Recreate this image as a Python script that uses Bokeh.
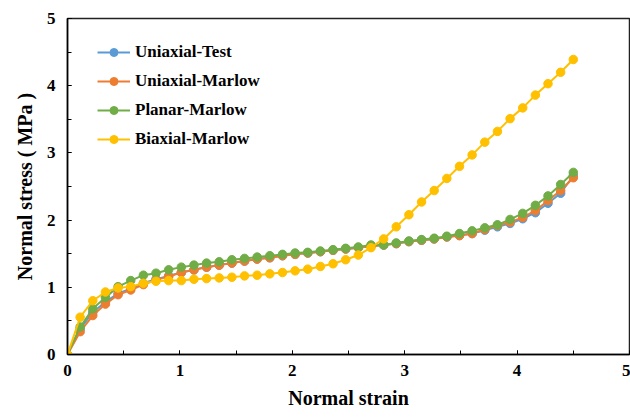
from bokeh.plotting import figure
from bokeh.models import SingleIntervalTicker, Legend, LegendItem, Range1d
from bokeh.embed import file_html
from bokeh.resources import INLINE

# Strain samples shared by all four curves
strain = [round(i * 0.1125, 4) for i in range(41)]

uniaxial_test = [0, 0.38, 0.63, 0.78, 0.91, 0.98, 1.06, 1.12, 1.17, 1.22, 1.26,
                 1.30, 1.33, 1.36, 1.39, 1.42, 1.44, 1.47, 1.49, 1.51, 1.53,
                 1.55, 1.57, 1.59, 1.61, 1.63, 1.65, 1.68, 1.70, 1.72, 1.75,
                 1.77, 1.80, 1.85, 1.90, 1.95, 2.02, 2.11, 2.25, 2.40, 2.66]
uniaxial_marlow = [0, 0.34, 0.58, 0.75, 0.89, 0.96, 1.04, 1.11, 1.16, 1.22, 1.26,
                   1.30, 1.33, 1.36, 1.39, 1.42, 1.44, 1.47, 1.49, 1.51, 1.53,
                   1.55, 1.57, 1.59, 1.61, 1.63, 1.65, 1.68, 1.70, 1.72, 1.75,
                   1.77, 1.80, 1.86, 1.92, 1.97, 2.04, 2.14, 2.29, 2.44, 2.63]
planar_marlow = [0, 0.41, 0.68, 0.85, 1.01, 1.10, 1.18, 1.21, 1.26, 1.30, 1.33,
                 1.36, 1.38, 1.41, 1.43, 1.45, 1.47, 1.49, 1.51, 1.52, 1.54,
                 1.56, 1.58, 1.60, 1.63, 1.63, 1.66, 1.69, 1.71, 1.73, 1.76,
                 1.80, 1.84, 1.885, 1.93, 2.01, 2.10, 2.22, 2.36, 2.53, 2.71]
biaxial_marlow = [0, 0.555, 0.80, 0.93, 0.99, 1.01, 1.06, 1.09, 1.10, 1.10, 1.12,
                  1.13, 1.14, 1.15, 1.17, 1.18, 1.20, 1.22, 1.245, 1.27, 1.31,
                  1.35, 1.41, 1.48, 1.59, 1.72, 1.90, 2.08, 2.27, 2.44, 2.62,
                  2.80, 2.97, 3.16, 3.32, 3.51, 3.67, 3.86, 4.03, 4.20, 4.39]

series_names = ["Uniaxial-Test", "Uniaxial-Marlow", "Planar-Marlow", "Biaxial-Marlow"]
series_values = [uniaxial_test, uniaxial_marlow, planar_marlow, biaxial_marlow]
series_colors = ["#5B9BD5", "#ED7D31", "#70AD47", "#FFC000"]

FONT = "'Liberation Serif', 'Times New Roman', serif"

p = figure(width=630, height=417, output_backend="svg", toolbar_location=None,
           x_range=Range1d(0, 5), y_range=Range1d(0, 5),
           min_border_left=67, min_border_right=1, min_border_top=18,
           min_border_bottom=63)
p.background_fill_color = "white"
p.border_fill_color = "white"
p.outline_line_color = "#222222"
p.outline_line_width = 1.5
p.xgrid.visible = False
p.ygrid.visible = False

for ax in (p.xaxis[0], p.yaxis[0]):
    ax.ticker = SingleIntervalTicker(interval=1, num_minor_ticks=2)
    ax.axis_line_color = "black"
    ax.axis_line_width = 1.5
    ax.major_tick_in = 4
    ax.major_tick_out = 0
    ax.minor_tick_in = 4
    ax.minor_tick_out = 0
    ax.major_tick_line_color = "black"
    ax.minor_tick_line_color = "black"
    ax.major_label_text_font = FONT
    ax.major_label_text_font_style = "bold"
    ax.major_label_text_font_size = "17px"
    ax.major_label_text_color = "black"
    ax.axis_label_text_font = FONT
    ax.axis_label_text_font_style = "bold"
    ax.axis_label_text_font_size = "20px"
    ax.axis_label_text_color = "black"

p.xaxis.axis_label = "Normal strain"
p.yaxis.axis_label = "Normal stress ( MPa )"
p.xaxis.major_label_standoff = 10
p.yaxis.major_label_standoff = 12
p.xaxis.axis_label_standoff = 8
p.yaxis.axis_label_standoff = 8

items = []
for name, vals, col in zip(series_names, series_values, series_colors):
    ln = p.line(strain, vals, line_color=col, line_width=2)
    mk = p.scatter(strain, vals, marker="circle", size=8.5, fill_color=col,
                   line_color=col)
    items.append(LegendItem(label=name, renderers=[ln, mk]))

legend = Legend(items=items, location=(30, 205), padding=5, spacing=9,
                glyph_width=33, glyph_height=20, label_standoff=5,
                border_line_color=None, background_fill_alpha=0,
                label_text_font=FONT, label_text_font_style="bold",
                label_text_font_size="17px", label_text_color="black")
p.add_layout(legend)

open("out.html", "w").write(file_html(p, INLINE))
